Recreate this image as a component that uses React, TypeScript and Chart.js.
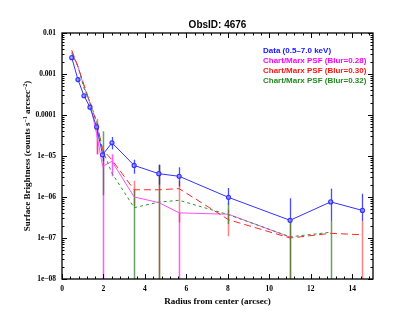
import React, { useEffect, useRef } from "react";
import { Chart, registerables } from "chart.js";

Chart.register(...registerables);

// ---------- data ----------
const radius = [0.47, 0.77, 1.06, 1.35, 1.67, 1.96, 2.41, 3.48, 4.67, 5.65, 8.03, 11.0, 12.96, 14.49];

const dataSB = [2.5e-3, 7.3e-4, 2.95e-4, 1.55e-4, 5.1e-5, 1.07e-5, 2.1e-5, 5.9e-6, 3.7e-6, 3.2e-6, 9.8e-7, 2.7e-7, 7.6e-7, 4.7e-7];
const dataErrHi = [2.8e-3, 8.2e-4, 3.3e-4, 1.8e-4, 6.2e-5, 1.4e-5, 2.9e-5, 8.1e-6, 6.2e-6, 5.3e-6, 1.66e-6, 9.3e-7, 1.6e-6, 1.2e-6];
const dataErrLo = [2.2e-3, 6.5e-4, 2.6e-4, 1.3e-4, 4.0e-5, 7.5e-6, 1.45e-5, 3.7e-6, 2.0e-6, 1.8e-6, 6.5e-7, 2.6e-7, 2.6e-7, 2.6e-7];

const psf028 = [3.5e-3, 1.5e-3, 5.0e-4, 1.9e-4, 3.5e-5, 5.6e-6, 7.4e-6, 1.0e-6, 7.3e-7, 4.1e-7, 3.8e-7, 1.05e-7, null, null];
const psf028ErrHi = [null, null, null, null, 6e-5, 1.3e-5, 1.1e-5, null, null, 4.1e-7, null, null, null, null];
const psf028ErrLo = [null, null, null, null, 1.1e-5, 1e-8, 3.2e-6, null, null, 1e-8, null, null, null, null];

const psf030 = [3.8e-3, 1.5e-3, 5.5e-4, 2.0e-4, 6.5e-5, 1.45e-5, 8.0e-6, 1.5e-6, 1.5e-6, 1.6e-6, 2.8e-7, 1.0e-7, 1.3e-7, 1.2e-7];
const psf030ErrHi = [null, null, null, null, 8e-5, null, null, 2.5e-6, 6e-6, 2.5e-6, 5e-7, 2.6e-7, null, 2.6e-7];
const psf030ErrLo = [null, null, null, null, 1.1e-5, null, null, 6e-7, 1e-8, 2.4e-7, 1.1e-7, 1e-8, null, 1e-8];

const psf032 = [3.2e-3, 1.55e-3, 4.5e-4, 2.1e-4, 7.0e-5, 1.4e-5, 3.8e-6, 5.5e-7, 7.5e-7, 8.3e-7, 3.7e-7, 1.07e-7, 1.38e-7, null];
const psf032ErrHi = [null, null, null, null, null, 4e-5, null, 1.5e-6, 6e-6, null, 7e-7, 2.6e-7, 2.6e-7, null];
const psf032ErrLo = [null, null, null, null, null, 1.1e-6, null, 1e-8, 1e-8, null, 2.2e-7, 1e-8, 1e-8, null];

const seriesLabels = [
  "Data (0.5\u20137.0 keV)",
  "Chart/Marx PSF (Blur=0.28)",
  "Chart/Marx PSF (Blur=0.30)",
  "Chart/Marx PSF (Blur=0.32)",
];
const titleText = "ObsID: 4676";
const xTitle = "Radius from center (arcsec)";
const yTitleParts = [
  { t: "Surface Brightness (counts s", sup: false },
  { t: "\u22121", sup: true },
  { t: " arcsec", sup: false },
  { t: "\u22122", sup: true },
  { t: ")", sup: false },
];

const xTickValues = [0, 2, 4, 6, 8, 10, 12, 14];
const xTickLabels = ["0", "2", "4", "6", "8", "10", "12", "14"];
const yTickValues = [1e-8, 1e-7, 1e-6, 1e-5, 1e-4, 1e-3, 1e-2];
const yTickLabels = ["1e\u221208", "1e\u221207", "1e\u221206", "1e\u221205", "0.0001", "0.001", "0.01"];

const X_MIN = 0;
const X_MAX = 15;
const Y_MIN = 1e-8;
const Y_MAX = 1e-2;

// ---------- styles ----------
const BLUE = "rgb(50,50,255)";
const MAGENTA = "rgb(255,80,255)";
const RED = "rgb(255,40,40)";
const GREEN = "rgb(50,145,50)";
const SERIF = "'Liberation Serif', 'Times New Roman', serif";
const SANS = "'Liberation Sans', Arial, sans-serif";

const pts = (ys: (number | null)[]) => radius.map((x, i) => ({ x, y: ys[i] }));

const errorBars = [
  { lo: psf028ErrLo, hi: psf028ErrHi, color: "rgba(255,60,255,0.85)", width: 1.5 },
  { lo: psf030ErrLo, hi: psf030ErrHi, color: "rgba(255,30,30,0.55)", width: 1.5 },
  { lo: psf032ErrLo, hi: psf032ErrHi, color: "rgba(40,120,40,0.7)", width: 1.5 },
  { lo: dataErrLo, hi: dataErrHi, color: "rgba(30,30,255,0.8)", width: 1.3 },
];

const errorPlugin = {
  id: "errbars",
  beforeDatasetsDraw(chart: any) {
    const { ctx, chartArea, scales } = chart;
    ctx.save();
    ctx.beginPath();
    ctx.rect(chartArea.left, chartArea.top, chartArea.right - chartArea.left, chartArea.bottom - chartArea.top);
    ctx.clip();
    for (const eb of errorBars) {
      ctx.strokeStyle = eb.color;
      ctx.lineWidth = eb.width;
      radius.forEach((x, i) => {
        const lo = eb.lo[i];
        const hi = eb.hi[i];
        if (lo == null || hi == null) return;
        const px = Math.round(scales.x.getPixelForValue(x)) + 0.5;
        ctx.beginPath();
        ctx.moveTo(px, scales.y.getPixelForValue(lo));
        ctx.lineTo(px, scales.y.getPixelForValue(hi));
        ctx.stroke();
      });
    }
    ctx.restore();
  },
};

const decorPlugin = {
  id: "decor",
  afterDraw(chart: any) {
    const { ctx, chartArea: a, scales } = chart;
    const xs = scales.x;
    const ys = scales.y;
    ctx.save();
    ctx.strokeStyle = "#000";
    ctx.lineWidth = 1.3;
    ctx.strokeRect(a.left, a.top, a.right - a.left, a.bottom - a.top);
    ctx.lineWidth = 1;
    const tick = (x1: number, y1: number, x2: number, y2: number) => {
      ctx.beginPath();
      ctx.moveTo(x1, y1);
      ctx.lineTo(x2, y2);
      ctx.stroke();
    };
    for (let k = 0; k <= 37; k++) {
      const v = k * 0.4;
      if (v > X_MAX) break;
      const major = k % 5 === 0;
      const len = major ? 5 : 2.5;
      const px = Math.round(xs.getPixelForValue(v)) + 0.5;
      tick(px, a.bottom, px, a.bottom - len);
      tick(px, a.top, px, a.top + len);
    }
    for (let e = -8; e <= -2; e++) {
      for (let m = 1; m <= 9; m++) {
        const v = m * Math.pow(10, e);
        if (v > Y_MAX * 1.0001) break;
        const len = m === 1 ? 5 : 2.5;
        const py = Math.round(ys.getPixelForValue(v)) + 0.5;
        tick(a.left, py, a.left + len, py);
        tick(a.right, py, a.right - len, py);
      }
    }
    ctx.fillStyle = "#000";
    ctx.textAlign = "center";
    ctx.textBaseline = "middle";
    ctx.font = `bold 10px ${SANS}`;
    ctx.fillText(titleText, (a.left + a.right) / 2, 25);
    ctx.font = `bold 9px ${SERIF}`;
    ctx.fillText(xTitle, (a.left + a.right) / 2, 301.5);
    const baseFont = `bold 9px ${SERIF}`;
    const supFont = `bold 6px ${SERIF}`;
    let total = 0;
    for (const p of yTitleParts) {
      ctx.font = p.sup ? supFont : baseFont;
      total += ctx.measureText(p.t).width;
    }
    ctx.translate(27, (a.top + a.bottom) / 2);
    ctx.rotate(-Math.PI / 2);
    ctx.textAlign = "left";
    ctx.textBaseline = "alphabetic";
    let cx = -total / 2;
    for (const p of yTitleParts) {
      ctx.font = p.sup ? supFont : baseFont;
      ctx.fillText(p.t, cx, p.sup ? 0 : 3);
      cx += ctx.measureText(p.t).width;
    }
    ctx.restore();
    ctx.save();
    ctx.font = `bold 8px ${SANS}`;
    ctx.textAlign = "left";
    ctx.textBaseline = "middle";
    const cols = ["rgb(20,20,255)", "rgb(255,0,255)", "rgb(255,20,20)", "rgb(30,140,30)"];
    seriesLabels.forEach((t, i) => {
      ctx.fillStyle = cols[i];
      ctx.fillText(t, 263, 50.5 + i * 10);
    });
    ctx.restore();
  },
};

export default function App() {
  const ref = useRef<HTMLCanvasElement>(null);
  useEffect(() => {
    document.body.style.margin = "0";
    const canvas = ref.current!;
    const chart = new Chart(canvas, {
      type: "line",
      data: {
        datasets: [
          {
            label: seriesLabels[1],
            data: pts(psf028),
            borderColor: MAGENTA,
            borderWidth: 1,
            pointRadius: 0,
            spanGaps: false,
            order: 4,
          },
          {
            label: seriesLabels[2],
            data: pts(psf030),
            borderColor: RED,
            borderWidth: 1,
            borderDash: [7, 4],
            pointRadius: 0,
            order: 3,
          },
          {
            label: seriesLabels[3],
            data: pts(psf032),
            borderColor: GREEN,
            borderWidth: 1,
            borderDash: [3, 3],
            pointRadius: 0,
            order: 2,
          },
          {
            label: seriesLabels[0],
            data: pts(dataSB),
            borderColor: BLUE,
            borderWidth: 1,
            pointRadius: 2,
            pointStyle: "circle",
            pointBorderColor: BLUE,
            pointBackgroundColor: "rgba(170,170,255,0.6)",
            pointBorderWidth: 1.2,
            order: 1,
          },
        ],
      },
      options: {
        animation: false,
        responsive: false,
        devicePixelRatio: 1,
        layout: { padding: { left: 0, right: 42, top: 33, bottom: 0 } },
        plugins: { legend: { display: false }, tooltip: { enabled: false }, title: { display: false } },
        scales: {
          x: {
            type: "linear",
            min: X_MIN,
            max: X_MAX,
            grid: { display: false, drawTicks: false },
            border: { display: false },
            afterBuildTicks: (s: any) => {
              s.ticks = xTickValues.map((v) => ({ value: v }));
            },
            afterFit: (s: any) => {
              s.height = 50;
            },
            ticks: {
              autoSkip: false,
              maxRotation: 0,
              padding: 6,
              color: "#000",
              font: { family: SERIF, size: 7.5, weight: "bold" },
              callback: (v: any) => {
                const i = xTickValues.indexOf(Number(v));
                return i >= 0 ? xTickLabels[i] : "";
              },
            },
          },
          y: {
            type: "logarithmic",
            min: Y_MIN,
            max: Y_MAX,
            grid: { display: false, drawTicks: false },
            border: { display: false },
            afterBuildTicks: (s: any) => {
              s.ticks = yTickValues.map((v) => ({ value: v }));
            },
            afterFit: (s: any) => {
              s.width = 62;
            },
            ticks: {
              autoSkip: false,
              padding: 6,
              color: "#000",
              font: { family: SERIF, size: 7.5, weight: "bold" },
              callback: (v: any) => {
                const n = Number(v);
                const i = yTickValues.findIndex((t) => Math.abs(Math.log10(t) - Math.log10(n)) < 1e-6);
                return i >= 0 ? yTickLabels[i] : "";
              },
            },
          },
        },
      },
      plugins: [errorPlugin, decorPlugin],
    } as any);
    return () => chart.destroy();
  }, []);
  return <canvas ref={ref} width={415} height={329} style={{ display: "block" }} />;
}
